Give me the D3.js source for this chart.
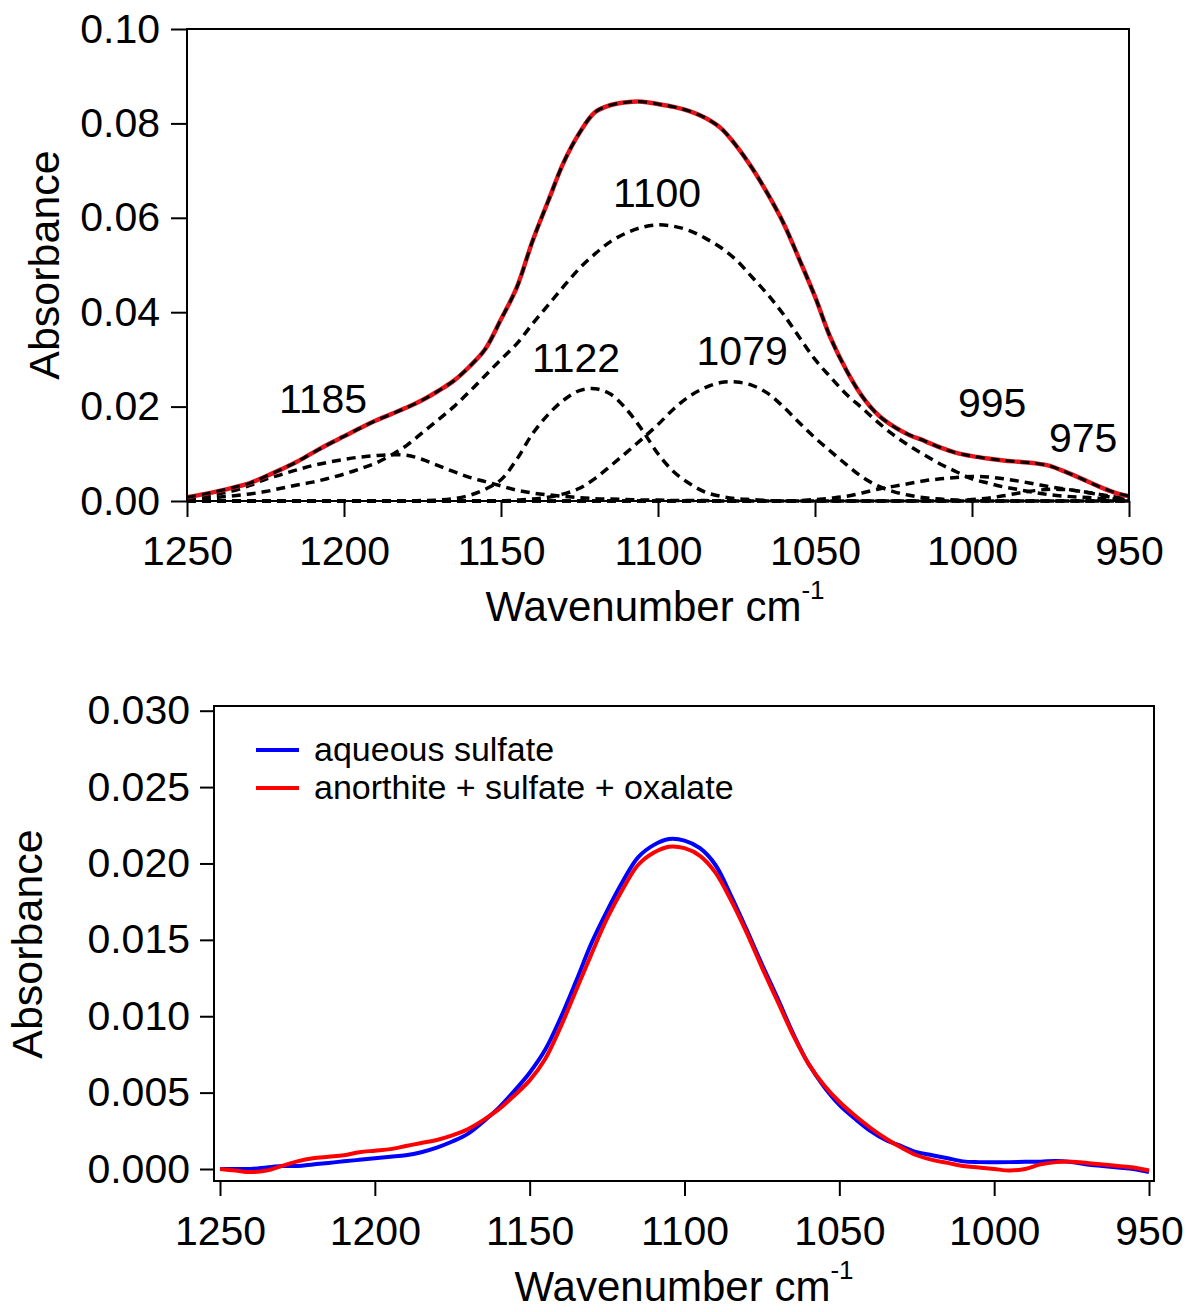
<!DOCTYPE html>
<html>
<head>
<meta charset="utf-8">
<script src="https://cdn.jsdelivr.net/npm/d3@7"></script>
<style>
  body { margin: 0; background: #fff; }
  text { font-family: "Liberation Sans", Arial, sans-serif; fill: #000; }
</style>
</head>
<body>
<div id="chart"></div>
<script>
// shared x grid (cm-1), read every 5 wavenumbers
var wavenumber = [1250,1245,1240,1235,1230,1225,1220,1215,1210,1205,
                  1200,1195,1190,1185,1180,1175,1170,1165,1160,1155,
                  1150,1145,1140,1135,1130,1125,1120,1115,1110,1105,
                  1100,1095,1090,1085,1080,1075,1070,1065,1060,1055,
                  1050,1045,1040,1035,1030,1025,1020,1015,1010,1005,
                  1000,995,990,985,980,975,970,965,960,955,
                  950];

// top panel: fitted envelope and the five component bands
var fitTotal = [0.0008,0.0014,0.0021,0.0029,0.0038,0.0052,0.0067,0.0083,0.0102,0.0120,
                0.0137,0.0154,0.0170,0.0184,0.0198,0.0214,0.0233,0.0255,0.0285,0.0322,
                0.0385,0.0452,0.0550,0.0635,0.0718,0.0780,0.0824,0.0839,0.0845,0.0846,
                0.0841,0.0835,0.0826,0.0812,0.0790,0.0752,0.0705,0.0650,0.0588,0.0512,
                0.0433,0.0345,0.0277,0.0222,0.0183,0.0158,0.0140,0.0127,0.0113,0.0102,
                0.0095,0.0090,0.0086,0.0083,0.0080,0.0074,0.0061,0.0047,0.0032,0.0019,
                0.0010];
var band1185 = [0.0005,0.0010,0.0015,0.0022,0.0033,0.0046,0.0056,0.0066,0.0075,0.0082,
                0.0088,0.0093,0.0096,0.0098,0.0097,0.0088,0.0075,0.0062,0.0050,0.0041,
                0.0032,0.0023,0.0017,0.0013,0.0010,0.0007,0.0005,0.0004,0.0003,0.0002,
                0.0002,0.0001,0.0001,0.0001,0,0,0,0,0,0,
                0,0,0,0,0,0,0,0,0,0,
                0,0,0,0,0,0,0,0,0,0,
                0];
var band1122 = [0,0,0,0,0,0,0,0,0,0,
                0,0,0,0,0,0.0001,0.0002,0.0005,0.0012,0.0025,
                0.0045,0.0088,0.0142,0.0183,0.0214,0.0234,0.0238,0.0226,0.0194,0.0150,
                0.0100,0.0062,0.0037,0.0019,0.0010,0.0005,0.0003,0.0001,0,0,
                0,0,0,0,0,0,0,0,0,0,
                0,0,0,0,0,0,0,0,0,0,
                0];
var band1100 = [0.0002,0.0005,0.0008,0.0011,0.0015,0.0020,0.0027,0.0034,0.0040,0.0048,
                0.0057,0.0068,0.0080,0.0097,0.0118,0.0145,0.0172,0.0200,0.0232,0.0266,
                0.0300,0.0333,0.0375,0.0415,0.0455,0.0493,0.0524,0.0550,0.0568,0.0580,
                0.0585,0.0582,0.0573,0.0557,0.0537,0.0510,0.0474,0.0437,0.0395,0.0347,
                0.0300,0.0262,0.0226,0.0197,0.0167,0.0140,0.0117,0.0097,0.0078,0.0062,
                0.0047,0.0038,0.0030,0.0024,0.0018,0.0013,0.0010,0.0008,0.0006,0.0004,
                0.0003];
var band1079 = [0,0,0,0,0,0,0,0,0,0,
                0,0,0,0,0,0,0,0,0,0,
                0,0.0002,0.0004,0.0008,0.0015,0.0027,0.0048,0.0075,0.0103,0.0132,
                0.0162,0.0195,0.0222,0.0240,0.0251,0.0252,0.0245,0.0228,0.0199,0.0166,
                0.0134,0.0105,0.0077,0.0051,0.0032,0.0020,0.0012,0.0007,0.0004,0.0002,
                0.0001,0,0,0,0,0,0,0,0,0,
                0];
var band995 = [0,0,0,0,0,0,0,0,0,0,
               0,0,0,0,0,0,0,0,0,0,
               0,0,0,0,0,0,0,0,0,0,
               0,0,0,0,0,0,0,0,0,0.0001,
               0.0003,0.0006,0.0010,0.0017,0.0025,0.0031,0.0037,0.0043,0.0047,0.0050,
               0.0052,0.0051,0.0047,0.0042,0.0036,0.0030,0.0025,0.0020,0.0015,0.0009,
               0.0005];
var band975 = [0,0,0,0,0,0,0,0,0,0,
               0,0,0,0,0,0,0,0,0,0,
               0,0,0,0,0,0,0,0,0,0,
               0,0,0,0,0,0,0,0,0,0,
               0,0,0,0,0,0,0,0,0,0,
               0.0003,0.0006,0.0011,0.0017,0.0022,0.0025,0.0024,0.0020,0.0014,0.0007,
               0.0003];

var bandNames = ["1185", "1122", "1100", "1079", "995", "975"];
// where each band name sits, in chart units [wavenumber, absorbance at baseline]
var bandLabelAt = [[1206.7, 0.0186], [1126.1, 0.0273], [1100.3, 0.0623],
                   [1073.2, 0.0288], [993.6, 0.0178], [964.6, 0.0104]];

// bottom panel spectra
var aqueousSulfate = [0.0000,0.0000,0.0000,0.0001,0.0002,0.0002,0.0003,0.0004,0.0005,0.0006,
                      0.0007,0.0008,0.0009,0.0011,0.0014,0.0018,0.0023,0.0031,0.0040,0.0051,
                      0.0063,0.0078,0.0099,0.0123,0.0148,0.0169,0.0188,0.0204,0.0212,0.0216,
                      0.0215,0.0210,0.0199,0.0179,0.0157,0.0134,0.0112,0.0089,0.0069,0.0054,
                      0.0042,0.0033,0.0025,0.0019,0.0015,0.0011,0.0009,0.0007,0.0005,0.00045,
                      0.00044,0.00045,0.00047,0.00048,0.00052,0.00045,0.0003,0.0002,0.0001,0.0000,
                      -0.0002];
var anorthiteMix = [0.0000,-0.0001,-0.0002,-0.0001,0.0002,0.0005,0.0007,0.0008,0.0009,0.0011,
                    0.0012,0.0013,0.0015,0.0017,0.0019,0.0022,0.0026,0.0032,0.0039,0.0048,
                    0.0058,0.0072,0.0093,0.0117,0.0141,0.0164,0.0183,0.0199,0.0207,0.0211,
                    0.0210,0.0205,0.0194,0.0176,0.0155,0.0132,0.0110,0.0088,0.0069,0.0055,
                    0.0044,0.0035,0.0027,0.0020,0.0014,0.0009,0.0006,0.0004,0.0002,0.0001,
                    0.0000,-0.0001,0.0000,0.0003,0.00045,0.00048,0.0004,0.0003,0.0002,0.0001,
                    -0.0001];
var legendNames = ["aqueous sulfate", "anorthite + sulfate + oxalate"];

var xTickValues = [1250, 1200, 1150, 1100, 1050, 1000, 950];
var topYTicks = [0, 0.02, 0.04, 0.06, 0.08, 0.10];
var bottomYTicks = [0, 0.005, 0.010, 0.015, 0.020, 0.025, 0.030];

var fontSize = 41;

var svg = d3.select("#chart")
    .append("svg")
    .attr("width", 1188)
    .attr("height", 1312);

function pairs(values) {
    return wavenumber.map((w, i) => [w, values[i]]);
}

function styleAxis(g) {
    g.select(".domain").remove();
    g.selectAll(".tick line").attr("stroke", "#000").attr("stroke-width", 2);
    g.selectAll(".tick text")
        .attr("font-family", "Liberation Sans, Arial, sans-serif")
        .attr("font-size", fontSize)
        .attr("fill", "#000");
    g.attr("font-family", null).attr("font-size", null);
}

function xTitle(cx, baseline) {
    var t = svg.append("text")
        .attr("x", cx)
        .attr("y", baseline)
        .attr("text-anchor", "middle")
        .style("font-size", "42px");
    t.append("tspan").text("Wavenumber cm");
    t.append("tspan").attr("dy", -22).style("font-size", "26px").text("-1");
}

function yTitle(x, cy) {
    svg.append("text")
        .attr("transform", "translate(" + x + "," + cy + ") rotate(-90)")
        .attr("text-anchor", "middle")
        .style("font-size", "43px")
        .text("Absorbance");
}

// ---------- top panel ----------
var xTop = d3.scaleLinear().domain([1250, 950]).range([187, 1129]);
var yTop = d3.scaleLinear().domain([0, 0.10]).range([501, 29]);

var lineTop = d3.line()
    .x(d => xTop(d[0]))
    .y(d => yTop(d[1]))
    .curve(d3.curveCatmullRom.alpha(0.5));

var bands = [band1185, band1122, band1100, band1079, band995, band975];

svg.append("g")
    .selectAll("path")
    .data(bands)
    .enter()
    .append("path")
    .attr("d", d => lineTop(pairs(d)))
    .attr("fill", "none")
    .attr("stroke", "#000")
    .attr("stroke-width", 3.5)
    .attr("stroke-dasharray", "9,6");

svg.append("path")
    .attr("d", lineTop(pairs(fitTotal)))
    .attr("fill", "none")
    .attr("stroke", "#e3141b")
    .attr("stroke-width", 4.5);

svg.append("path")
    .attr("d", lineTop(pairs(fitTotal)))
    .attr("fill", "none")
    .attr("stroke", "#000")
    .attr("stroke-width", 3)
    .attr("stroke-dasharray", "9,6");

svg.append("rect")
    .attr("x", 187).attr("y", 29)
    .attr("width", 1129 - 187).attr("height", 501 - 29)
    .attr("fill", "none")
    .attr("stroke", "#000")
    .attr("stroke-width", 2);

svg.append("g")
    .attr("transform", "translate(187,0)")
    .call(d3.axisLeft(yTop).tickValues(topYTicks).tickFormat(d3.format(".2f"))
        .tickSize(16).tickPadding(11))
    .call(styleAxis);

svg.append("g")
    .attr("transform", "translate(0,501)")
    .call(d3.axisBottom(xTop).tickValues(xTickValues).tickFormat(d3.format("d"))
        .tickSize(16).tickPadding(19))
    .call(styleAxis);

svg.append("g")
    .selectAll("text")
    .data(bandNames)
    .enter()
    .append("text")
    .attr("x", (d, i) => xTop(bandLabelAt[i][0]))
    .attr("y", (d, i) => yTop(bandLabelAt[i][1]))
    .attr("text-anchor", "middle")
    .style("font-size", fontSize + "px")
    .text(d => d);

xTitle(655, 621);
yTitle(59, 265);

// ---------- bottom panel ----------
var xBot = d3.scaleLinear().domain([1250, 950]).range([220, 1149]);
var yBot = d3.scaleLinear().domain([0, 0.030]).range([1169, 710.7]);

var lineBot = d3.line()
    .x(d => xBot(d[0]))
    .y(d => yBot(d[1]))
    .curve(d3.curveCatmullRom.alpha(0.5));

var spectra = [aqueousSulfate, anorthiteMix];
var spectraColors = ["#0000ff", "#ff0000"];

svg.append("g")
    .selectAll("path")
    .data(spectra)
    .enter()
    .append("path")
    .attr("d", d => lineBot(pairs(d)))
    .attr("fill", "none")
    .attr("stroke", (d, i) => spectraColors[i])
    .attr("stroke-width", 4);

svg.append("rect")
    .attr("x", 214).attr("y", 706)
    .attr("width", 1154 - 214).attr("height", 1181 - 706)
    .attr("fill", "none")
    .attr("stroke", "#000")
    .attr("stroke-width", 2);

svg.append("g")
    .attr("transform", "translate(214,0)")
    .call(d3.axisLeft(yBot).tickValues(bottomYTicks).tickFormat(d3.format(".3f"))
        .tickSize(14).tickPadding(10))
    .call(styleAxis);

svg.append("g")
    .attr("transform", "translate(0,1181)")
    .call(d3.axisBottom(xBot).tickValues(xTickValues).tickFormat(d3.format("d"))
        .tickSize(15).tickPadding(20))
    .call(styleAxis);

var legend = svg.append("g").attr("transform", "translate(256,750)");

legend.selectAll("line")
    .data(legendNames)
    .enter()
    .append("line")
    .attr("x1", 0).attr("x2", 43)
    .attr("y1", (d, i) => i * 38).attr("y2", (d, i) => i * 38)
    .attr("stroke", (d, i) => spectraColors[i])
    .attr("stroke-width", 4);

legend.selectAll("text")
    .data(legendNames)
    .enter()
    .append("text")
    .attr("x", 58)
    .attr("y", (d, i) => i * 38 + 11)
    .style("font-size", "34px")
    .text(d => d);

xTitle(684, 1301);
yTitle(42, 944);
</script>
</body>
</html>
